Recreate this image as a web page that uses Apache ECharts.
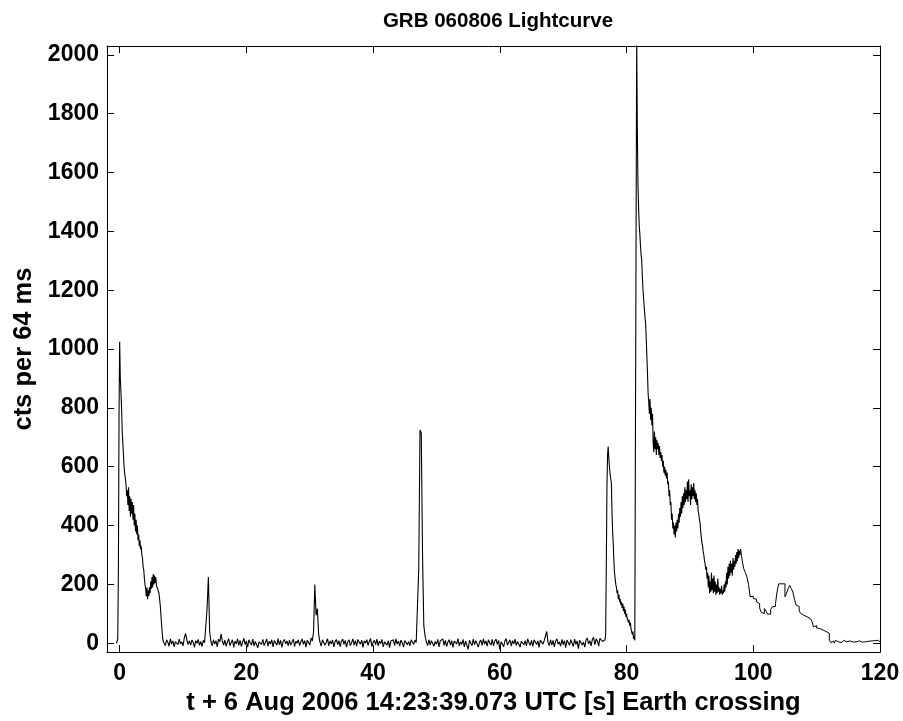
<!DOCTYPE html>
<html>
<head>
<meta charset="utf-8">
<script src="https://cdn.jsdelivr.net/npm/echarts@6/dist/echarts.min.js"></script>
<style>html,body{margin:0;padding:0;background:#fff}#c{width:903px;height:721px}</style>
</head>
<body>
<div id="c"></div>
<script>
// ---------- DATA ----------
const titleText = "GRB 060806 Lightcurve";
const xLabel = "t + 6 Aug 2006 14:23:39.073 UTC [s] Earth crossing";
const yLabel = "cts per 64 ms";
const xTicks = [0, 20, 40, 60, 80, 100, 120];
const yTicks = [0, 200, 400, 600, 800, 1000, 1200, 1400, 1600, 1800, 2000];

// first pulse: bins from -0.5 s, 0.1 s wide
const pulse1Start = -0.5, pulse1Step = 0.1;
const pulse1Counts = [
  0, 4, 15, 250, 780,
  1025, 900, 856, 800, 720, 680, 640, 600, 575, 560,
  540, 500, 520, 470, 530, 450, 500, 430, 490, 440,
  480, 420, 470, 400, 440, 380, 420, 370, 400, 350,
  370, 330, 350, 320, 330, 300, 290, 260, 250, 220,
  200, 185, 160, 190, 150, 180, 160, 190, 170, 210,
  185, 225, 190, 235, 200, 230, 205, 225, 195, 200,
  185, 190, 170, 150, 130, 100, 70, 40, 15, 5
];

// quiet interval with precursor spikes: bins from 7.0 s, 0.2 s wide
const quietStart = 7.0, quietStep = 0.2;
const quietCounts = [
  2, -8, 12, 4, -10, 15, -3, 8, -12, 6, 10, -5, 14, -2, 5, -9, 18, 34, 12, -4,
  8, -6, 11, 3, -14, 9, 0, 13, -7, 6, -11, 10, 2, -4, 120, 225, 40, 6, -9, 12,
  -3, 9, -12, 14, 5, 32, 8, -6, 11, -10, 4, 16, -8, 3, 12, -14, 7, -2, 15, -7,
  10, -11, 4, 17, -5, 8, -13, 12, 1, -6, 14, -9, 6, 11, -15, 5, 9, -4, 13, -8,
  3, 15, -10, 7, -3, 12, -12, 9, 2, -7, 16, -5, 10, -14, 6, 13, -2, 8, -9, 11,
  -6, 4, 14, -11, 7, 0, 12, -8, 5, 15, -4, 9, -13, 10, 3, -6, 18, 8, 40, 200,
  95, 118, 30, 5, -10, 12, 14, -7, 3, 16, -9, 8, -2, 11, -12, 6, 13, -5, 9, -11,
  7, 14, -4, 10, -13, 5, 12, -8, 2, 15, -6, 9, -10, 13, 4, -3, 11, -14, 8, 1,
  12, -7, 6, 16, -11, 3, 10, -5, 14, -9, 7, -1, 13, -12, 5, 11, -6, 9, -15, 8,
  4, 12, -8, 15, -3, 7, -10, 11, 2, -13, 9, 14, -5, 6, -9, 12, 18, -4, 10, 3,
  5, 250, 725, 715, 300, 60, 25, 5, -8, 12, -5, 9, 14, -10, 6, -3, 13, -12, 8, 2,
  15, -7, 10, -11, 4, 12, -6, 9, -14, 7, 11, -2, 16, -9, 5, -4, 13, -12, 8, 3,
  -21, 10, 6, -8, 14, -5, 9, 12, -13, 4, 11, -7, 15, -3, 8, -10, 12, 1, -6, 13,
  -9, 7, 14, -4, 10, -21, 5, 11, -12, 8, 16, -6, 3, 12, -10, 9, -2, 14, -8, 6,
  11, -13, 7, 13, -5, 9, -9, 15, 2, -7, 10, -11, 12, 4, -4, 8, -14, 11, 6, -3,
  9, 14, 40, 3, -8, 12, -6, 10, -12, 7, 15, -3, 5, -10, 13, -5, 9, -15, 11, 2,
  -7, 12, 6, -11, 14, -4, 8, -18, 10, 16, -6, 4, -13, 11, 18, -2, 9, -9, 13, 20,
  -5, 15, 8, -10, 17, 22, 6, 12
];

// main emission: bins from 76.5 s, 0.1 s wide
const mainStart = 76.5, mainStep = 0.1;
const mainCounts = [
  5, 12, 30, 250, 520,
  640, 669, 630, 600, 575, 560, 545, 450, 380, 340,
  280, 240, 220, 200, 190, 170, 180, 150, 165, 140,
  150, 130, 140, 120, 135, 110, 125, 100, 115, 90,
  100, 85, 90, 70, 80, 60, 70, 50, 45, 30,
  40, 15, 25, 10, 8, 12, 2060, 1750, 1560, 1480,
  1420, 1390, 1350, 1320, 1300, 1240, 1200, 1170, 1140, 1110,
  1090, 1040, 980, 920, 850, 820, 780, 830, 760, 800,
  740, 780, 680, 650, 720, 660, 700, 640, 690, 660,
  680, 640, 670, 630, 650, 620, 640, 600, 620, 580,
  600, 570, 590, 560, 580, 540, 550, 500, 520, 470,
  480, 420, 440, 390, 410, 370, 400, 360, 410, 380,
  420, 390, 440, 410, 460, 430, 480, 440, 500, 460,
  510, 470, 530, 480, 520, 490, 550, 480, 557, 500,
  520, 470, 540, 490, 530, 500, 545, 490, 520, 480,
  510, 470, 490, 450, 440, 420, 410, 380, 360, 340,
  330, 310, 300, 280, 270, 250, 260, 220, 240, 190,
  230, 170, 210, 175, 240, 180, 220, 170, 230, 175,
  210, 165, 200, 170, 220, 175, 190, 165, 185, 170,
  195, 165, 180, 170, 200, 175, 210, 190, 240, 200,
  260, 220, 270, 230, 280, 240, 270, 230, 290, 250,
  280, 260, 300, 270, 310, 280, 320, 290, 315, 300,
  320
];

// tail in coarser bins: from 98.0 s, 0.25 s wide
const tailStart = 98.0, tailStep = 0.25;
const tailCounts = [
  320, 280, 253, 240, 225, 200, 158, 160, 152, 150, 141, 135, 120, 105, 101, 118,
  110, 99, 99, 115, 124, 125, 135, 174, 202, 202, 202, 202, 158, 170, 186, 197,
  186, 174, 150, 130, 125, 110, 101, 95, 98, 90, 90, 84, 88, 75, 56, 60,
  52, 50, 45, 45, 42, 40, 36, 34, 10, 2, 8, 0, 10, 4, 6, 3,
  2, 10, 5, 2, 8, 6, 4, 7, 5, 3, 8, 6, 4, 9, 5, 2,
  7, 4, 8, 3, 9, 4, 10, 5, 8
];

// ---------- CHART ----------
function bins(start, step, counts) {
  return counts.map((c, i) => [Math.round((start + i * step) * 1000) / 1000, c]);
}
const denseData = bins(pulse1Start, pulse1Step, pulse1Counts)
  .concat(bins(quietStart, quietStep, quietCounts))
  .concat(bins(mainStart, mainStep, mainCounts));
const tailData = bins(tailStart, tailStep, tailCounts);

const FONT = "'Liberation Sans', Arial, Helvetica, sans-serif";
const X_MIN = -2, X_MAX = 120, Y_MIN = -30, Y_MAX = 2030;

const chart = echarts.init(document.getElementById('c'), null, {renderer: 'canvas'});
const lineAxis = {show: true, onZero: false, lineStyle: {color: '#000', width: 1}};
const tickIn = (vals) => ({show: true, inside: true, length: 7, customValues: vals, lineStyle: {color: '#000', width: 1}});
const plain = (v) => String(v);

chart.setOption({
  animation: false,
  backgroundColor: '#fff',
  title: {
    text: titleText,
    left: 493, top: 6, textAlign: 'center',
    textStyle: {fontFamily: FONT, fontWeight: 'bold', fontSize: 20.5, color: '#000'}
  },
  grid: {left: 107, right: 23, top: 46, bottom: 65, containLabel: false},
  xAxis: [{
    type: 'value', min: X_MIN, max: X_MAX, position: 'bottom',
    name: xLabel, nameLocation: 'middle', nameGap: 31,
    nameTextStyle: {fontFamily: FONT, fontWeight: 'bold', fontSize: 25.5, color: '#000'},
    axisLine: lineAxis, axisTick: tickIn(xTicks),
    axisLabel: {show: true, customValues: xTicks, formatter: plain, margin: 10, fontFamily: FONT, fontWeight: 'bold', fontSize: 23, color: '#000'},
    splitLine: {show: false}
  }, {
    type: 'value', min: X_MIN, max: X_MAX, position: 'top',
    axisLine: lineAxis, axisTick: tickIn(xTicks),
    axisLabel: {show: false}, splitLine: {show: false}
  }],
  yAxis: [{
    type: 'value', min: Y_MIN, max: Y_MAX, position: 'left',
    name: yLabel, nameLocation: 'middle', nameGap: 68, nameRotate: 90,
    nameTextStyle: {fontFamily: FONT, fontWeight: 'bold', fontSize: 25.5, color: '#000'},
    axisLine: lineAxis, axisTick: tickIn(yTicks),
    axisLabel: {show: true, customValues: yTicks, formatter: plain, margin: 8, fontFamily: FONT, fontWeight: 'bold', fontSize: 23, color: '#000'},
    splitLine: {show: false}
  }, {
    type: 'value', min: Y_MIN, max: Y_MAX, position: 'right',
    axisLine: lineAxis, axisTick: tickIn(yTicks),
    axisLabel: {show: false}, splitLine: {show: false}
  }],
  series: [{
    type: 'line', xAxisIndex: 0, yAxisIndex: 0, data: denseData,
    showSymbol: false, symbol: 'none', clip: true,
    lineStyle: {color: '#000', width: 1.1}
  }, {
    type: 'line', xAxisIndex: 0, yAxisIndex: 0, data: tailData,
    step: 'end', showSymbol: false, symbol: 'none', clip: true,
    lineStyle: {color: '#000', width: 1}
  }]
});
</script>
</body>
</html>
